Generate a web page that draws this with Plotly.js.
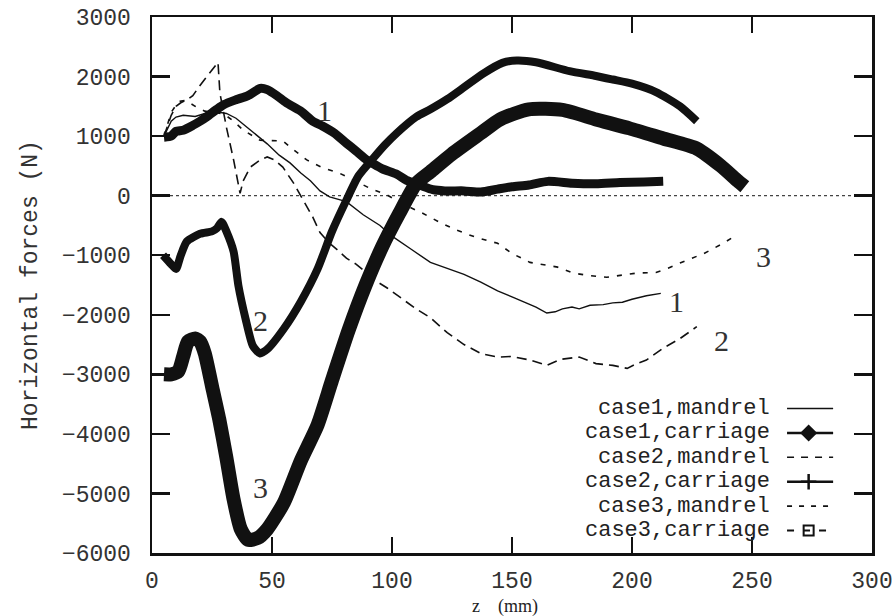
<!DOCTYPE html>
<html>
<head>
<meta charset="utf-8">
<script src="https://cdn.plot.ly/plotly-3.0.1.min.js"></script>
<style>html,body{margin:0;padding:0;background:#fff;}#chart{width:892px;height:616px;}</style>
</head>
<body>
<div id="chart"></div>
<script>
// ---- data (z in mm, force in N) ----
const c1MandrelZ = [5,8,10,13,18,22,28,31,35,41,48,53,57.5,62,66,70,74,81,85,88,95,100,108,116,123,130,137,144,150,155,160,164.5,168,171,175,178,182.5,188,192,196,200,206,212];
const c1MandrelF = [1000,1250,1320,1350,1330,1380,1400,1380,1300,1100,870,680,550,380,250,80,-20,-100,-230,-320,-500,-680,-900,-1120,-1220,-1320,-1450,-1600,-1700,-1780,-1870,-1970,-1950,-1900,-1870,-1900,-1840,-1830,-1800,-1790,-1740,-1680,-1640];

const c1CarriageZ = [5,8,10,13,17,20,23,27,30,35,40,45,48,52,56,62,67,71,76,81,85,89.5,92,96,102,106,112,117,122,130,137,144,150,157,165,175,185,195,205,213];
const c1CarriageF = [980,1000,1080,1100,1180,1250,1330,1450,1530,1610,1680,1800,1780,1680,1560,1420,1250,1170,1050,880,750,600,540,450,360,260,170,100,80,80,60,110,150,180,240,210,200,220,230,240];

const c2MandrelZ = [5,8,10,12,15,17,20,23,27.5,28.3,31,34,36.7,38,41,45,48,51,54.5,59,64.5,67,70,74,77,81,85,90,94,98,105,110,116,123,130,137,144,150,157.5,164.5,170,178,185,192,198,202,206,213,220,227];
const c2MandrelF = [1000,1350,1500,1560,1620,1680,1850,2000,2240,1720,1150,600,40,250,480,600,650,600,480,210,-190,-360,-620,-800,-900,-1050,-1150,-1320,-1450,-1550,-1750,-1900,-2050,-2300,-2500,-2650,-2710,-2700,-2760,-2850,-2750,-2710,-2820,-2850,-2900,-2820,-2760,-2560,-2400,-2200];

const c2CarriageZ = [4.6,8,10,12,14.5,20,25,27,29,31,34,36,39,42,45,48,55,62,69,75,81,86,92,97,102,110,116,123,130,138,146,152,160,174,185,192,200,210,220,227];
const c2CarriageF = [-1000,-1150,-1230,-1000,-770,-640,-600,-550,-440,-600,-940,-1510,-2070,-2520,-2650,-2580,-2230,-1780,-1230,-600,-75,330,620,850,1050,1320,1450,1620,1820,2050,2230,2270,2240,2090,2010,1950,1880,1740,1500,1250];

const c3MandrelZ = [5,8,11,14,18,22,26,30,34,38,45,50,54.5,59,64.5,71,78,85,91,98,105,113,120,127,135,144,150,157.5,165,169,175.5,182,189.5,196,202,210,215,220,230,238,242];
const c3MandrelF = [1000,1400,1580,1600,1500,1420,1400,1370,1250,1100,930,930,920,770,600,470,380,240,120,10,-150,-300,-450,-580,-700,-800,-970,-1120,-1180,-1200,-1300,-1340,-1370,-1340,-1300,-1290,-1220,-1130,-970,-800,-700];

const c3CarriageZ = [5,8,11,13,15,18,20,22,25,28,31,34,37,40,44,48,55,62,69,75,82,89,96,103,110,116,125,137,145,157,171,185,199,213,227,237,244,247];
const c3CarriageF = [-3000,-3000,-2950,-2700,-2450,-2400,-2450,-2650,-3200,-3750,-4400,-5100,-5600,-5780,-5750,-5600,-5150,-4450,-3850,-3100,-2250,-1500,-850,-300,200,400,700,1050,1280,1450,1440,1280,1130,960,790,500,250,150];

const legendNames = ["case1,mandrel","case1,carriage","case2,mandrel","case2,carriage","case3,mandrel","case3,carriage"];
const yTickVals = [-6000,-5000,-4000,-3000,-2000,-1000,0,1000,2000,3000];
const xTickVals = [0,50,100,150,200,250,300];

// ---- styling ----
const ink = '#111';
const monoFont = '"Liberation Mono", "Courier New", monospace';
const serifFont = '"Liberation Serif", "Times New Roman", serif';

function curve(x, y, width, dash, shape) {
  return {x: x, y: y, type: 'scatter', mode: 'lines', showlegend: false, hoverinfo: 'skip',
    line: {color: ink, width: width, dash: dash || 'solid', shape: shape || 'linear', smoothing: 0.6}};
}

const traces = [
  curve(c1MandrelZ, c1MandrelF, 1.4, 'solid'),
  curve(c2MandrelZ, c2MandrelF, 1.6, '10px,6px'),
  curve(c3MandrelZ, c3MandrelF, 1.6, '5px,8px'),
  curve(c1CarriageZ, c1CarriageF, 9, 'solid', 'spline'),
  curve(c2CarriageZ, c2CarriageF, 8, 'solid', 'spline'),
  curve(c3CarriageZ, c3CarriageF, 14, 'solid', 'spline')
];

// ---- hand-made legend (text left of the sample, as in the figure) ----
const rowY = [0.2695, 0.224, 0.1785, 0.133, 0.0875, 0.042];
const sx0 = 0.882, sx1 = 0.946, sxm = 0.912;
const sampleStyles = [
  {w: 1.4, dash: 'solid', sym: null},
  {w: 2.5, dash: 'solid', sym: 'diamond'},
  {w: 1.6, dash: '7px,7px', sym: null},
  {w: 2.5, dash: 'solid', sym: 'cross-thin-open'},
  {w: 1.6, dash: '5px,7px', sym: null},
  {w: 2.0, dash: '7px,9px', sym: 'square-open'}
];
const annotations = [];
legendNames.forEach(function (name, i) {
  annotations.push({xref: 'paper', yref: 'paper', x: 0.86, y: rowY[i], xanchor: 'right', yanchor: 'middle',
    text: name, showarrow: false, borderpad: 0, font: {family: monoFont, size: 22, color: '#222'}});
  const s = sampleStyles[i];
  traces.push({x: [sx0, sx1], y: [rowY[i], rowY[i]], xaxis: 'x2', yaxis: 'y2', type: 'scatter', mode: 'lines',
    showlegend: false, hoverinfo: 'skip', line: {color: ink, width: s.w, dash: s.dash}});
  if (s.sym) {
    traces.push({x: [sxm], y: [rowY[i]], xaxis: 'x2', yaxis: 'y2', type: 'scatter', mode: 'markers',
      showlegend: false, hoverinfo: 'skip',
      marker: {symbol: s.sym, size: s.sym === 'square-open' ? 10 : 11, color: ink,
        line: {color: ink, width: s.sym === 'cross-thin-open' ? 2.5 : 2}}});
  }
});

// curve number labels
const labelTexts = ["1","2","3","1","2","3"];
const labelZ = [72, 45, 45, 218.6, 237.4, 254.7];
const labelF = [1436, -2090, -4900, -1784, -2428, -1028];
labelTexts.forEach(function (t, i) {
  annotations.push({x: labelZ[i], y: labelF[i], xref: 'x', yref: 'y', text: t, showarrow: false,
    font: {family: serifFont, size: 30, color: '#333'}});
});
// x-axis title
annotations.push({xref: 'paper', yref: 'paper', x: 0.49, y: -0.1, xanchor: 'center', yanchor: 'middle',
  text: 'z\u2003(mm)', showarrow: false, borderpad: 0, font: {family: serifFont, size: 18, color: '#222'}});

const layout = {
  width: 892, height: 616,
  margin: {l: 152, r: 20, t: 17, b: 63},
  paper_bgcolor: '#fff', plot_bgcolor: '#fff',
  showlegend: false,
  xaxis: {range: [0, 300], tickvals: xTickVals, ticks: 'inside', ticklen: 16, tickwidth: 2.5, tickcolor: ink,
    showline: true, linewidth: 2.5, linecolor: ink, mirror: 'ticks', showgrid: false, zeroline: false,
    tickfont: {family: monoFont, size: 23, color: '#333'}, ticklabelstandoff: 5, ticklabeloverflow: 'allow'},
  yaxis: {range: [-6000, 3000], tickvals: yTickVals, ticks: 'inside', ticklen: 18, tickwidth: 2.5, tickcolor: ink,
    showline: true, linewidth: 2.5, linecolor: ink, mirror: 'ticks', showgrid: false, zeroline: false,
    tickfont: {family: monoFont, size: 23, color: '#333'}, ticklabelstandoff: 14, ticklabeloverflow: 'allow',
    title: {text: 'Horizontal forces (N)', font: {family: monoFont, size: 23, color: '#333'}, standoff: 18}},
  xaxis2: {overlaying: 'x', range: [0, 1], visible: false, fixedrange: true},
  yaxis2: {overlaying: 'y', range: [0, 1], visible: false, fixedrange: true},
  shapes: [{type: 'line', xref: 'paper', x0: 0, x1: 1, yref: 'y', y0: 0, y1: 0,
    line: {color: '#444', width: 1.2, dash: 'dot'}, layer: 'below'}],
  annotations: annotations
};

Plotly.newPlot('chart', traces, layout, {staticPlot: true, displayModeBar: false});
</script>
</body>
</html>
